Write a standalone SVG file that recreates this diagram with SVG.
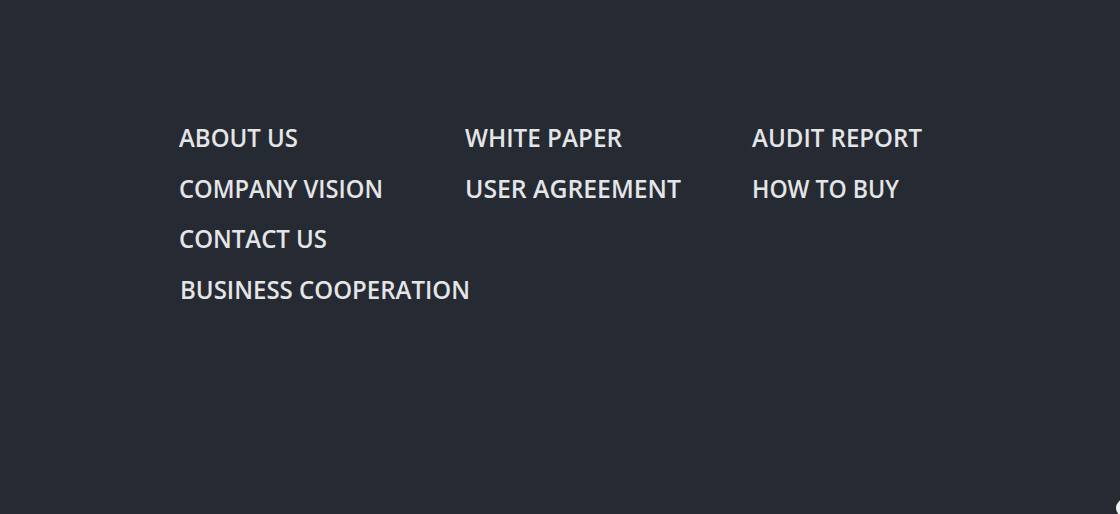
<svg xmlns="http://www.w3.org/2000/svg" width="1120" height="514" viewBox="0 0 1120 514">
<style>
.l{font-family:"Open Sans","Noto Sans","Liberation Sans",sans-serif;font-weight:600;font-size:25px;fill:#e4e5e7;}
</style>
<rect width="1120" height="514" fill="#262a33"/>
<g id="col1">
<text class="l" x="179" y="147" textLength="119" lengthAdjust="spacingAndGlyphs">ABOUT US</text>
<text class="l" x="179" y="198" textLength="204" lengthAdjust="spacingAndGlyphs">COMPANY VISION</text>
<text class="l" x="179" y="248" textLength="148" lengthAdjust="spacingAndGlyphs">CONTACT US</text>
<text class="l" x="180" y="299" textLength="290" lengthAdjust="spacingAndGlyphs">BUSINESS COOPERATION</text>
</g>
<g id="col2">
<text class="l" x="465" y="147" textLength="157" lengthAdjust="spacingAndGlyphs">WHITE PAPER</text>
<text class="l" x="465" y="198" textLength="216" lengthAdjust="spacingAndGlyphs">USER AGREEMENT</text>
</g>
<g id="col3">
<text class="l" x="752" y="147" textLength="170" lengthAdjust="spacingAndGlyphs">AUDIT REPORT</text>
<text class="l" x="752" y="198" textLength="147" lengthAdjust="spacingAndGlyphs">HOW TO BUY</text>
</g>
<circle cx="1125" cy="508" r="9" fill="#f2f2f2"/>
</svg>
